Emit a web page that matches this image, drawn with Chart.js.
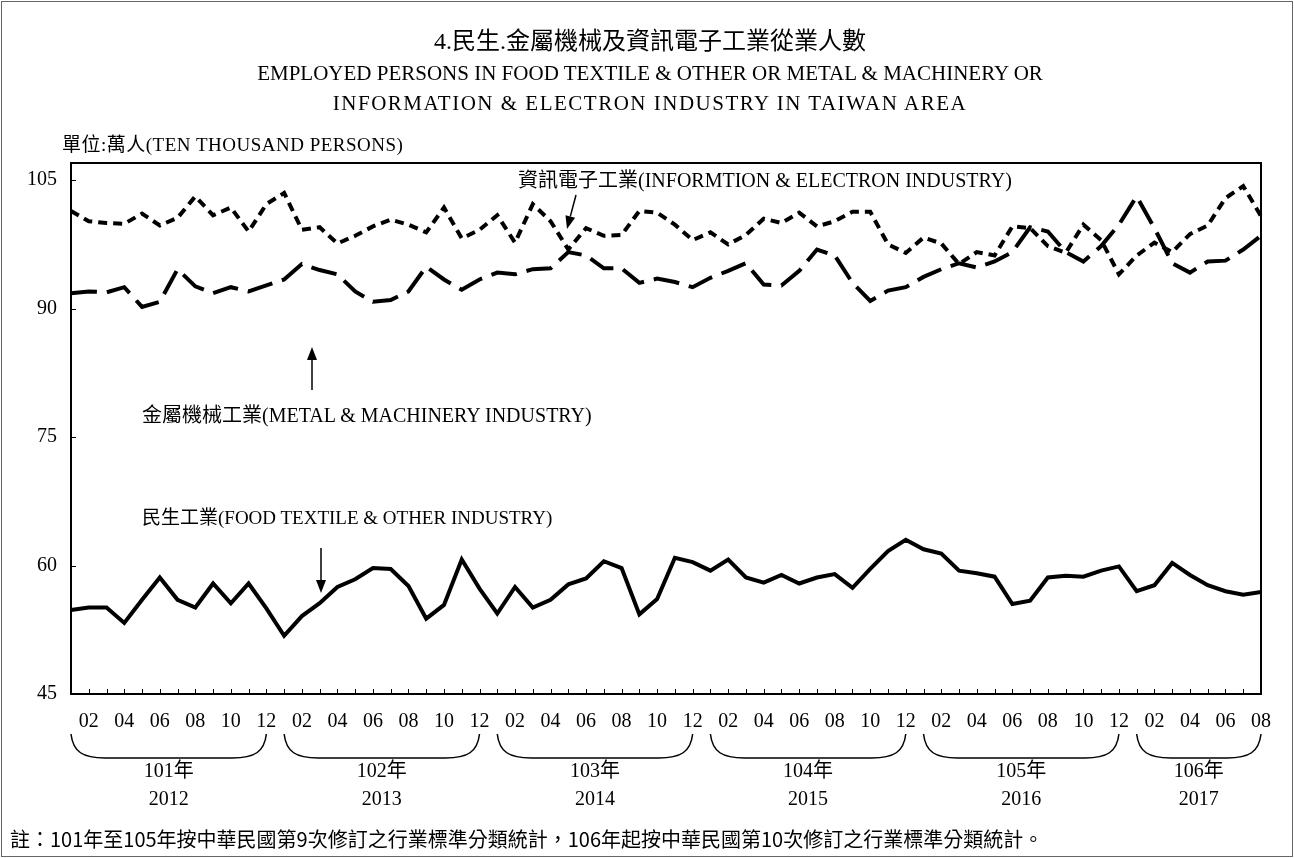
<!DOCTYPE html>
<html><head><meta charset="utf-8">
<script src="https://cdn.jsdelivr.net/npm/chart.js@4.4.0/dist/chart.umd.min.js"></script>
<style>
html,body{margin:0;padding:0;background:#fff;}
#wrap{position:relative;width:1294px;height:858px;overflow:hidden;background:#fff;}
#c{position:absolute;left:0;top:0;}
.t{position:absolute;white-space:nowrap;color:#000;font-family:"Liberation Serif","Noto Sans CJK TC",serif;line-height:1;}
.ctr{left:0;width:1300px;text-align:center;}
</style></head>
<body><div id="wrap">
<canvas id="c" width="1294" height="858"></canvas>
<div class="t ctr" style="top:29px;font-size:24px">4.民生.金屬機械及資訊電子工業從業人數</div>
<div class="t ctr" style="top:63px;font-size:21px">EMPLOYED PERSONS IN FOOD TEXTILE &amp; OTHER OR METAL &amp; MACHINERY OR</div>
<div class="t ctr" style="top:93px;font-size:21px;letter-spacing:1.5px">INFORMATION &amp; ELECTRON INDUSTRY IN TAIWAN AREA</div>
<div class="t" style="left:62px;top:135px;font-size:19px;letter-spacing:0.5px">單位:萬人(TEN THOUSAND PERSONS)</div>
<div class="t" style="left:518px;top:170px;font-size:20px">資訊電子工業(INFORMTION &amp; ELECTRON INDUSTRY)</div>
<div class="t" style="left:142px;top:405px;font-size:20px">金屬機械工業(METAL &amp; MACHINERY INDUSTRY)</div>
<div class="t" style="left:142px;top:508px;font-size:19px">民生工業(FOOD TEXTILE &amp; OTHER INDUSTRY)</div>
<div class="t" style="left:10px;top:829px;font-size:20px;font-family:'Noto Sans CJK TC','Noto Sans',sans-serif">註：101年至105年按中華民國第9次修訂之行業標準分類統計，106年起按中華民國第10次修訂之行業標準分類統計。</div>
</div>
<script>
// ---- data ----
const years = [2012, 2013, 2014, 2015, 2016, 2017];
const rocYears = ['101年', '102年', '103年', '104年', '105年', '106年'];
const monthsPerYear = [12, 12, 12, 12, 12, 8];
const monthTickLabels = ['', '02', '', '04', '', '06', '', '08', '', '10', '', '12'];
const yTicks = [45, 60, 75, 90, 105];

const foodValues = [
  54.8, 55.1, 55.1, 53.3, 56.0, 58.6, 56.0, 55.1, 57.9, 55.6, 57.9, 55.0,
  51.8, 54.1, 55.6, 57.5, 58.4, 59.7, 59.6, 57.6, 53.8, 55.4, 60.7, 57.3,
  54.4, 57.5, 55.1, 56.0, 57.8, 58.5, 60.5, 59.7, 54.3, 56.1, 60.9, 60.4,
  59.4, 60.7, 58.6, 58.0, 58.9, 57.9, 58.6, 59.0, 57.4, 59.6, 61.7, 63.0,
  61.9, 61.4, 59.4, 59.1, 58.7, 55.5, 55.9, 58.6, 58.8, 58.7, 59.4, 59.9,
  57.0, 57.7, 60.3, 58.9, 57.7, 57.0, 56.6, 56.9
];
const metalValues = [
  91.8, 92.0, 91.9, 92.5, 90.2, 90.8, 94.6, 92.6, 91.8, 92.5, 92.0, 92.7,
  93.4, 95.2, 94.5, 94.0, 92.0, 90.8, 91.0, 92.0, 94.9, 93.4, 92.2, 93.4,
  94.2, 94.0, 94.6, 94.7, 96.6, 96.2, 94.7, 94.7, 93.0, 93.5, 93.1, 92.5,
  93.6, 94.4, 95.3, 92.8, 92.7, 94.4, 96.9, 96.2, 93.0, 90.9, 92.1, 92.5,
  93.7, 94.6, 95.3, 94.8, 95.5, 96.6, 99.5, 99.0, 96.6, 95.5, 97.3, 99.8,
  103.1, 99.4, 95.3, 94.2, 95.5, 95.6, 96.9, 98.5
];
const infoValues = [
  101.4, 100.2, 100.0, 99.9, 101.1, 99.7, 100.6, 103.1, 100.9, 101.8, 99.0, 102.2,
  103.5, 99.2, 99.5, 97.6, 98.5, 99.6, 100.4, 99.8, 98.9, 101.8, 98.2, 99.2,
  100.9, 97.7, 102.2, 100.2, 96.9, 99.4, 98.5, 98.6, 101.4, 101.2, 99.8, 98.0,
  98.9, 97.5, 98.6, 100.5, 100.0, 101.2, 99.6, 100.2, 101.3, 101.3, 97.5, 96.5,
  98.3, 97.6, 95.2, 96.6, 96.2, 99.6, 99.4, 97.3, 96.5, 99.8, 98.0, 94.0,
  96.2, 97.7, 96.6, 98.7, 99.7, 102.9, 104.3, 100.8
];

const categories = [];
years.forEach((y, yi) => {
  for (let m = 1; m <= monthsPerYear[yi]; m++) categories.push(y + '-' + String(m).padStart(2, '0'));
});

const SERIF = '"Liberation Serif", "Noto Sans CJK TC", serif';

function arrow(ctx, x1, y1, x2, y2) {
  const ang = Math.atan2(y2 - y1, x2 - x1);
  const hl = 13, hw = 5;
  const bx = x2 - hl * Math.cos(ang), by = y2 - hl * Math.sin(ang);
  ctx.beginPath();
  ctx.moveTo(x1, y1); ctx.lineTo(bx, by);
  ctx.lineWidth = 1.5; ctx.strokeStyle = '#000'; ctx.stroke();
  ctx.beginPath();
  ctx.moveTo(x2, y2);
  ctx.lineTo(bx + hw * Math.sin(ang), by - hw * Math.cos(ang));
  ctx.lineTo(bx - hw * Math.sin(ang), by + hw * Math.cos(ang));
  ctx.closePath(); ctx.fillStyle = '#000'; ctx.fill();
}

const decor = {
  id: 'decor',
  afterDraw(chart) {
    const ctx = chart.ctx, a = chart.chartArea;
    const xs = chart.scales.x, ys = chart.scales.y;
    ctx.save();
    // page frame
    ctx.strokeStyle = '#666'; ctx.lineWidth = 1;
    ctx.strokeRect(1.5, 1.5, chart.width - 3, chart.height - 3);
    // plot frame
    ctx.strokeStyle = '#000'; ctx.lineWidth = 2;
    ctx.strokeRect(a.left, a.top, a.right - a.left, a.bottom - a.top);
    // inner ticks
    ctx.lineWidth = 1;
    ctx.beginPath();
    for (let i = 0; i < categories.length; i++) {
      const x = Math.round(xs.getPixelForValue(i)) + 0.5;
      ctx.moveTo(x, a.bottom); ctx.lineTo(x, a.bottom - 5);
    }
    yTicks.forEach(v => {
      const y = Math.round(ys.getPixelForValue(v)) + 0.5;
      ctx.moveTo(a.left, y); ctx.lineTo(a.left + 5, y);
    });
    ctx.stroke();
    // braces and year labels
    let start = 0;
    ctx.lineWidth = 1.5;
    ctx.font = '20px ' + SERIF; ctx.fillStyle = '#000';
    ctx.textAlign = 'center'; ctx.textBaseline = 'middle';
    years.forEach((yr, yi) => {
      const end = start + monthsPerYear[yi] - 1;
      const x1 = xs.getPixelForValue(start), x2 = xs.getPixelForValue(end);
      const y0 = a.bottom + 40, y1 = a.bottom + 64;
      ctx.beginPath();
      ctx.moveTo(x1, y0);
      ctx.bezierCurveTo(x1 + 2, y0 + 18, x1 + 12, y1, x1 + 34, y1);
      ctx.lineTo(x2 - 34, y1);
      ctx.bezierCurveTo(x2 - 12, y1, x2 - 2, y0 + 18, x2, y0);
      ctx.stroke();
      const cx = (x1 + x2) / 2;
      ctx.fillText(rocYears[yi], cx, a.bottom + 78);
      ctx.fillText(String(yr), cx, a.bottom + 106);
      start = end + 1;
    });
    // arrows
    arrow(ctx, 576, 195, 567, 229);
    arrow(ctx, 312, 390, 312, 347);
    arrow(ctx, 321, 548, 321, 593);
    ctx.restore();
  }
};

const ctx = document.getElementById('c').getContext('2d');
new Chart(ctx, {
  type: 'line',
  data: {
    labels: categories,
    datasets: [
      { label: '民生工業', data: foodValues, borderColor: '#000', borderWidth: 4, pointRadius: 0, tension: 0, fill: false },
      { label: '金屬機械工業', data: metalValues, borderColor: '#000', borderWidth: 4, borderDash: [26, 10], pointRadius: 0, tension: 0, fill: false },
      { label: '資訊電子工業', data: infoValues, borderColor: '#000', borderWidth: 4, borderDash: [9, 6], pointRadius: 0, tension: 0, fill: false }
    ]
  },
  options: {
    responsive: false, animation: false, devicePixelRatio: 1,
    layout: { padding: { left: 0, right: 33, top: 163, bottom: 0 } },
    plugins: { legend: { display: false }, tooltip: { enabled: false }, title: { display: false } },
    scales: {
      x: {
        type: 'category', offset: false,
        grid: { display: false, drawTicks: false }, border: { display: false },
        ticks: {
          autoSkip: false, maxRotation: 0, minRotation: 0, padding: 16, color: '#000',
          font: { family: SERIF, size: 20 },
          callback: (v, i) => monthTickLabels[i % 12]
        },
        afterFit: s => { s.height = 164; }
      },
      y: {
        min: 45, max: 107,
        afterBuildTicks: s => { s.ticks = yTicks.map(v => ({ value: v })); },
        grid: { display: false, drawTicks: false }, border: { display: false },
        ticks: { padding: 14, color: '#000', font: { family: SERIF, size: 20 } },
        afterFit: s => { s.width = 71; }
      }
    }
  },
  plugins: [decor]
});
</script>
</body></html>
